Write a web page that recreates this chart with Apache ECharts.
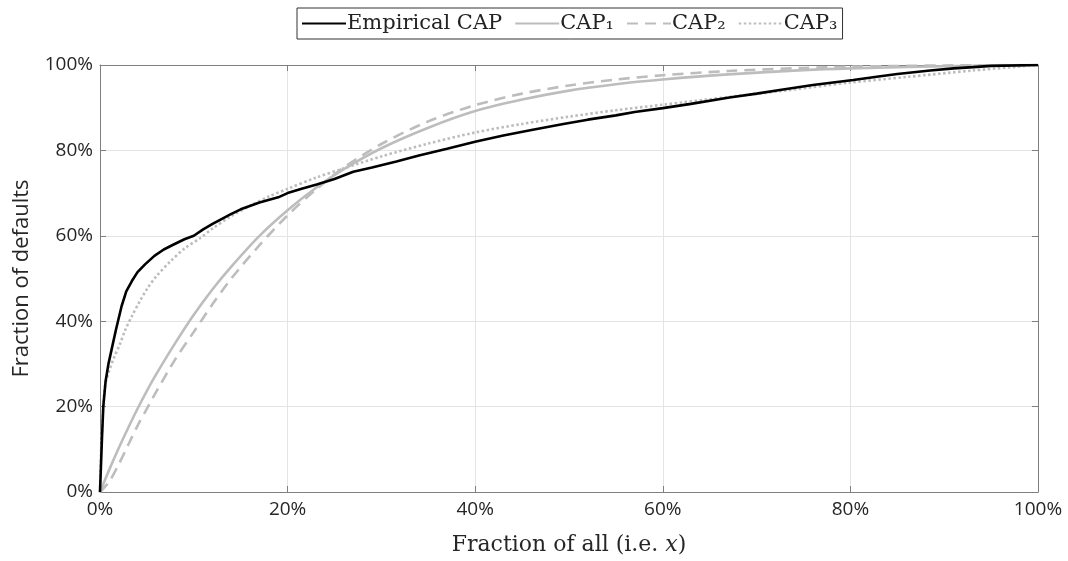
<!DOCTYPE html>
<html><head><meta charset="utf-8">
<script src="https://cdn.jsdelivr.net/npm/echarts@6/dist/echarts.min.js"></script>
<style>html,body{margin:0;padding:0;background:#fff}#c{width:1068px;height:561px}</style>
</head><body><div id="c"></div>
<script>
const seriesNames = ['Empirical CAP', 'CAP\u2081', 'CAP\u2082', 'CAP\u2083'];
const ticks = [0, 20, 40, 60, 80, 100];

const empX = [0,0.1,0.2,0.35,0.6,0.9,1.24,1.7,2.3,2.8,3.4,4.0,4.8,5.8,6.8,7.8,9,10,11,12,13.9,15,17,19,20,21.5,23.1,25,27,29,31.6,34,37,40.1,43,46,49.4,52,55,57,60,63,67.1,70,73,76,80.3,83,85,88.5,91,93.1,95,100];
const empY = [0,6,12,20,26,30,33.4,38,43.5,47,49.4,51.5,53.3,55.3,56.8,57.9,59.2,60,61.5,62.8,65,66.2,67.8,69,70,71,72,73.3,75,76,77.4,78.8,80.4,82.1,83.5,84.8,86.2,87.2,88.2,89.0,89.9,90.9,92.4,93.3,94.3,95.3,96.5,97.3,97.9,98.7,99.2,99.5,99.8,100];

const cap1X = [0,1,2,3,4,5,6,8,10,12,14,17,20,23,26,30,35,40,45,50,55,60,67,75,80,90,100];
const cap1Y = [0,5.3,10.3,15,19.5,23.7,27.6,34.8,41.5,47.5,52.8,60,66,71.2,75.6,80.5,85.3,89.2,91.9,94,95.5,96.6,97.8,98.8,99.2,99.7,100];

const cap2X = [0,1,2,3,4,5,6,8,10,12,14,17,20,23,26,30,35,40,45,50,55,60,67,75,80,90,100];
const cap2Y = [0,2.5,6.5,11,15.5,19.5,23.5,31,37.5,44,50,57.8,64.8,70.8,76,81.5,86.8,90.6,93.3,95.2,96.6,97.6,98.6,99.3,99.6,99.9,100];

const cap3X = [0,0.1,0.3,0.53,1,1.5,2.1,2.7,3.4,4.2,5,6,7.5,9,10.7,12,13.9,16,18,20,23,26,30,35,40,45,50,55,60,67,73,80,86,93,100];
const cap3Y = [0,9,18,24.8,28.5,31.5,34.5,38,41.2,44.5,47.5,50.5,54,57,59.5,61.7,64.5,67,69.2,71,73.6,75.8,78.6,81.6,84.2,86.2,87.9,89.4,90.7,92.5,94,95.9,97.2,98.7,100];

const zip = (a, b) => a.map((v, i) => [v, b[i]]);

const chart = echarts.init(document.getElementById('c'), null, {renderer: 'canvas'});
const axisCol = '#7f7f7f';
const gridCol = '#e4e4e4';
const sans = 'Open Sans, Noto Sans, sans-serif';
const serif = 'DejaVu Serif, Liberation Serif, serif';
const labelStyle = {color: '#262626', fontSize: 19, fontFamily: sans};

function mainAxis(isX) {
  return {
    type: 'value', min: 0, max: 100, interval: 20,
    axisLine: {show: true, onZero: false, lineStyle: {color: axisCol, width: 1}},
    axisTick: {show: true, inside: true, length: 6, lineStyle: {color: axisCol}},
    splitLine: {show: true, lineStyle: {color: gridCol, width: 1}},
    axisLabel: Object.assign({formatter: '{value}%', margin: isX ? 8 : 7}, labelStyle)
  };
}
function sideAxis(pos) {
  return {
    type: 'value', min: 0, max: 100, interval: 20, position: pos,
    axisLine: {show: true, onZero: false, lineStyle: {color: axisCol, width: 1}},
    axisTick: {show: true, inside: true, length: 6, lineStyle: {color: axisCol}},
    splitLine: {show: false}, axisLabel: {show: false}
  };
}

const xMain = mainAxis(true);
xMain.position = 'bottom';
xMain.name = '{n|Fraction of all (i.e. }{i|x}{n|)}';
xMain.nameLocation = 'middle';
xMain.nameGap = 42;
xMain.nameTextStyle = {rich: {
  n: {fontFamily: serif, fontSize: 22, color: '#262626'},
  i: {fontFamily: serif, fontSize: 22, fontStyle: 'italic', color: '#262626'}
}};
const yMain = mainAxis(false);
yMain.position = 'left';
yMain.name = 'Fraction of defaults';
yMain.nameLocation = 'middle';
yMain.nameGap = 67;
yMain.nameTextStyle = {fontFamily: sans, fontSize: 22, color: '#262626'};

const gray = '#bdbdbd';
chart.setOption({
  animation: false,
  backgroundColor: '#fff',
  grid: {left: 100, right: 30, top: 65, bottom: 68, containLabel: false},
  legend: {
    top: 8, left: 297,
    data: seriesNames,
    itemWidth: 44, itemHeight: 14, itemGap: 12,
    itemStyle: {opacity: 0},
    borderColor: '#333', borderWidth: 1, padding: [5, 5, 5, 4], borderRadius: 0,
    textStyle: {fontFamily: serif, fontSize: 21, color: '#222', padding: [0, 0, 0, -4]}
  },
  xAxis: [xMain, sideAxis('top')],
  yAxis: [yMain, sideAxis('right')],
  series: [
    {name: seriesNames[0], type: 'line', data: zip(empX, empY), showSymbol: false, symbol: 'none', z: 5,
     lineStyle: {color: '#000', width: 2.6}, itemStyle: {color: '#000'}},
    {name: seriesNames[1], type: 'line', data: zip(cap1X, cap1Y), showSymbol: false, symbol: 'none', smooth: 0.3, z: 3,
     lineStyle: {color: gray, width: 2.6}, itemStyle: {color: gray}},
    {name: seriesNames[2], type: 'line', data: zip(cap2X, cap2Y), showSymbol: false, symbol: 'none', smooth: 0.3, z: 3,
     lineStyle: {color: gray, width: 2.6, type: [11, 7]}, itemStyle: {color: gray}},
    {name: seriesNames[3], type: 'line', data: zip(cap3X, cap3Y), showSymbol: false, symbol: 'none', smooth: 0.3, z: 4,
     lineStyle: {color: gray, width: 2.6, type: [2.5, 2.5]}, itemStyle: {color: gray}}
  ]
});
</script>
</body></html>
